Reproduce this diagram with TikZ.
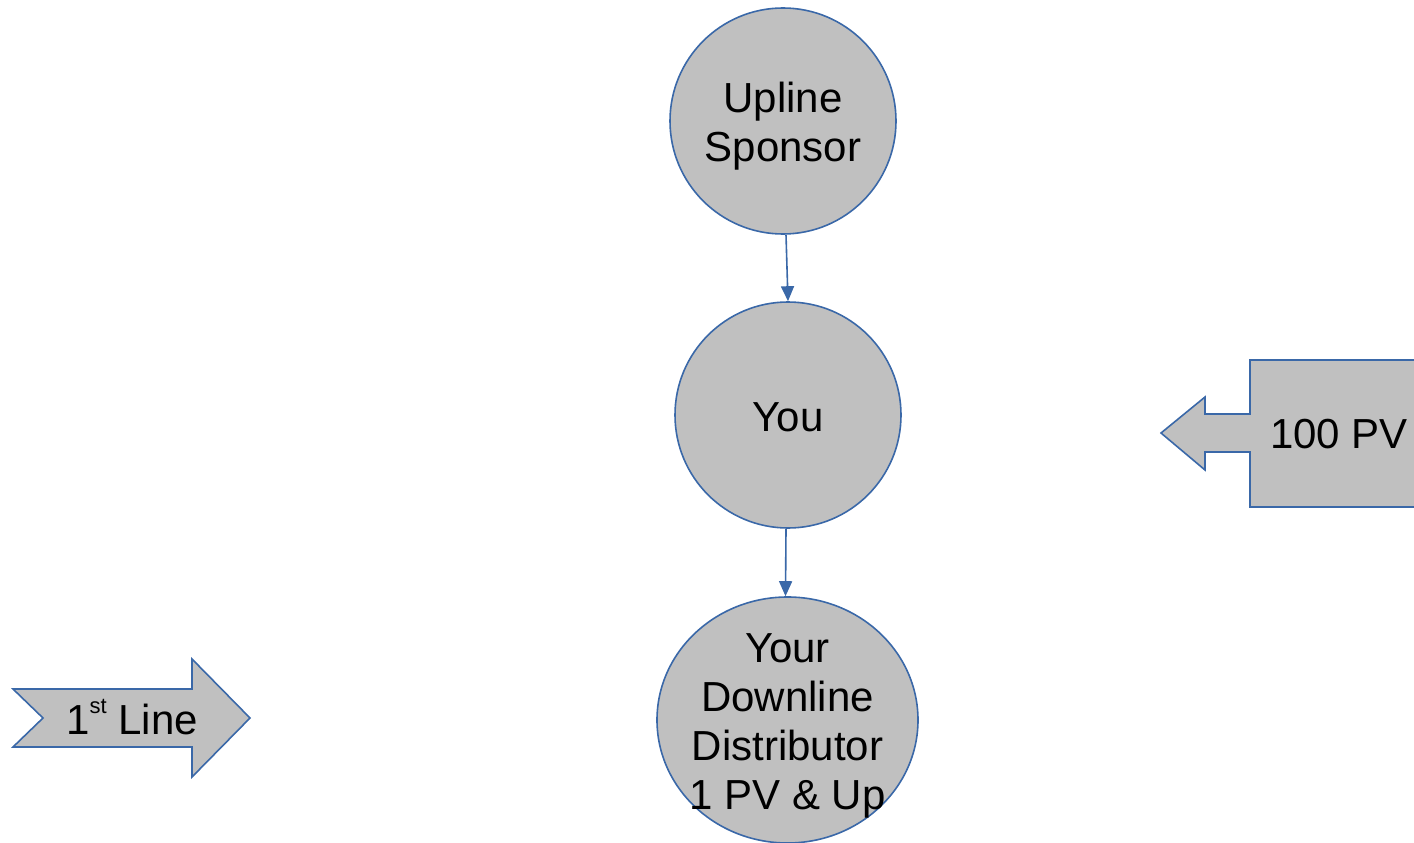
\documentclass[tikz,border=0pt]{standalone}
\usepackage{fontspec}
\setmainfont{Liberation Sans}
\usetikzlibrary{shapes.geometric,arrows.meta,calc}
\definecolor{edgeblue}{HTML}{3A68A8}
\definecolor{fillgray}{HTML}{C0C0C0}
\tikzset{
  bubble/.style={circle,draw=edgeblue,fill=fillgray,line width=1.6pt,inner sep=0pt},
  conn/.style={draw=edgeblue,line width=1.6pt,-{Triangle[length=15pt,width=13pt]}},
  shapeline/.style={draw=edgeblue,fill=fillgray,line width=1.6pt,line join=miter},
  lbl/.style={font=\fontsize{42}{49}\selectfont,inner sep=0pt,align=center}
}
\begin{document}
\begin{tikzpicture}[x=1pt,y=-1pt]
\useasboundingbox (0,0) rectangle (1414,843);
\clip (0,0) rectangle (1414,843);
\node[bubble,minimum size=226pt] (up) at (783,121) {};
\node[lbl] (uptext) at (783,126) {Upline\\Sponsor};
\node[bubble,minimum size=226pt] (you) at (788,415) {};
\node[lbl] (youtext) at (788,417) {You};
\node[bubble,ellipse,minimum width=261pt,minimum height=246pt] (down) at (787.5,720) {};
\node[lbl] (downtext) at (787.5,726) {Your\\Downline\\Distributor\\1 PV \& Up};
\draw[conn] ($(up.south)+(3,0)$) -- (you.north);
\draw[conn] ($(you.south)+(-2,0)$) -- ($(down.north)+(-2,0)$);
% 1st Line arrow
\draw[shapeline] (13,689) -- (192,689) -- (192,659) -- (250,718) -- (192,777) -- (192,747) -- (13,747) -- (43,718) -- cycle;
\node[lbl] (first) at (132,717) {1\raisebox{0.5em}{\fontsize{22}{22}\selectfont st} Line};
% 100 PV callout
\draw[shapeline] (1250,360) -- (1420,360) -- (1420,507) -- (1250,507) -- (1250,452) -- (1205,452) -- (1205,470) -- (1161,433) -- (1205,397) -- (1205,414) -- (1250,414) -- cycle;
\node[lbl] (pv) at (1339,434) {100 PV};
\end{tikzpicture}
\end{document}
